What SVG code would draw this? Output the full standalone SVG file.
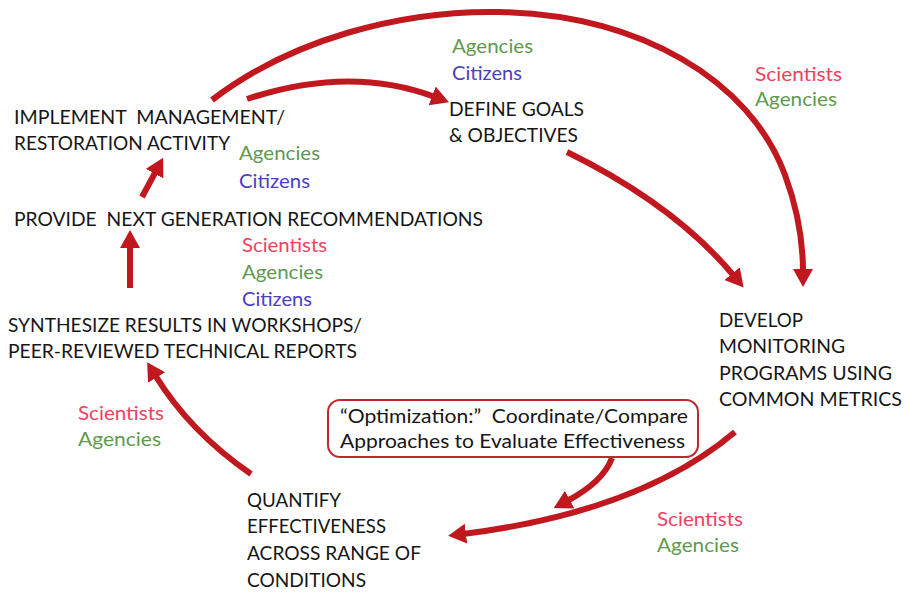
<svg xmlns="http://www.w3.org/2000/svg" width="906" height="592" viewBox="0 0 906 592">
<defs>
<style>
text{font-family:Lato,"Open Sans","Liberation Sans",sans-serif;font-size:18.5px;white-space:pre}
.k{fill:#161616}
.ag{fill:#5e9a4e}
.ci{fill:#4b40c0}
.sc{fill:#f2415e}
.c{fill:none;stroke:#c0181e;stroke-width:6;stroke-linecap:butt;marker-end:url(#ah)}
</style>
<marker id="ah" markerUnits="userSpaceOnUse" markerWidth="20" markerHeight="22" refX="3" refY="10" orient="auto">
<path d="M0,0 L18,10 L0,20 z" fill="#c0181e"/>
</marker>
</defs>
<rect width="906" height="592" fill="#ffffff"/>

<g id="connectors">
<path class="c" d="M212,100 C290,40 400,10 500,12 C640,15 750,80 785,175 C798,210 803,245 803,272"/>
<path class="c" d="M247,99 Q350,65 435,97"/>
<path class="c" d="M567,152 Q675,205 734,276"/>
<path class="c" d="M735,432 Q640,512 463,534"/>
<path class="c" d="M612,458 Q603,482 567,501"/>
<path class="c" d="M251,474 Q190,432 155,375"/>
<path class="c" d="M130,288 L130,245"/>
<path class="c" d="M142,197 L156,171"/>
</g>

<g id="implement">
<text class="k" x="14" y="124" textLength="271" lengthAdjust="spacingAndGlyphs">IMPLEMENT  MANAGEMENT/</text>
<text class="k" x="14" y="150" textLength="216" lengthAdjust="spacingAndGlyphs">RESTORATION ACTIVITY</text>
</g>
<g id="implement-actors">
<text class="ag" x="239" y="160" textLength="81" lengthAdjust="spacingAndGlyphs">Agencies</text>
<text class="ci" x="239" y="188" textLength="71" lengthAdjust="spacingAndGlyphs">Citizens</text>
</g>

<g id="define">
<text class="k" x="449" y="116" textLength="135" lengthAdjust="spacingAndGlyphs">DEFINE GOALS</text>
<text class="k" x="449" y="142" textLength="129" lengthAdjust="spacingAndGlyphs">&amp; OBJECTIVES</text>
</g>
<g id="define-actors">
<text class="ag" x="452" y="53" textLength="81" lengthAdjust="spacingAndGlyphs">Agencies</text>
<text class="ci" x="452" y="80" textLength="70" lengthAdjust="spacingAndGlyphs">Citizens</text>
</g>

<g id="arc-actors">
<text class="sc" x="755" y="81" textLength="87" lengthAdjust="spacingAndGlyphs">Scientists</text>
<text class="ag" x="755" y="106" textLength="82" lengthAdjust="spacingAndGlyphs">Agencies</text>
</g>

<g id="provide">
<text class="k" x="14" y="226" textLength="469" lengthAdjust="spacingAndGlyphs">PROVIDE  NEXT GENERATION RECOMMENDATIONS</text>
</g>
<g id="provide-actors">
<text class="sc" x="242" y="252" textLength="85" lengthAdjust="spacingAndGlyphs">Scientists</text>
<text class="ag" x="242" y="279" textLength="81" lengthAdjust="spacingAndGlyphs">Agencies</text>
<text class="ci" x="242" y="306" textLength="70" lengthAdjust="spacingAndGlyphs">Citizens</text>
</g>

<g id="synthesize">
<text class="k" x="8" y="332" textLength="354" lengthAdjust="spacingAndGlyphs">SYNTHESIZE RESULTS IN WORKSHOPS/</text>
<text class="k" x="8" y="358" textLength="349" lengthAdjust="spacingAndGlyphs">PEER-REVIEWED TECHNICAL REPORTS</text>
</g>

<g id="develop">
<text class="k" x="719" y="327" textLength="84" lengthAdjust="spacingAndGlyphs">DEVELOP</text>
<text class="k" x="719" y="353" textLength="126" lengthAdjust="spacingAndGlyphs">MONITORING</text>
<text class="k" x="719" y="380" textLength="173" lengthAdjust="spacingAndGlyphs">PROGRAMS USING</text>
<text class="k" x="719" y="406" textLength="183" lengthAdjust="spacingAndGlyphs">COMMON METRICS</text>
</g>

<g id="optimization">
<rect x="328" y="400" width="370" height="57" rx="12" ry="12" fill="#ffffff" stroke="#c0282d" stroke-width="2"/>
<text class="k" x="340" y="423" textLength="348" lengthAdjust="spacingAndGlyphs">“Optimization:”  Coordinate/Compare</text>
<text class="k" x="340" y="448" textLength="345" lengthAdjust="spacingAndGlyphs">Approaches to Evaluate Effectiveness</text>
</g>

<g id="quantify">
<text class="k" x="247" y="507" textLength="94" lengthAdjust="spacingAndGlyphs">QUANTIFY</text>
<text class="k" x="247" y="533" textLength="139" lengthAdjust="spacingAndGlyphs">EFFECTIVENESS</text>
<text class="k" x="247" y="560" textLength="174" lengthAdjust="spacingAndGlyphs">ACROSS RANGE OF</text>
<text class="k" x="247" y="587" textLength="119" lengthAdjust="spacingAndGlyphs">CONDITIONS</text>
</g>

<g id="quantify-synth-actors">
<text class="sc" x="78" y="420" textLength="86" lengthAdjust="spacingAndGlyphs">Scientists</text>
<text class="ag" x="78" y="446" textLength="83" lengthAdjust="spacingAndGlyphs">Agencies</text>
</g>

<g id="develop-quantify-actors">
<text class="sc" x="657" y="526" textLength="86" lengthAdjust="spacingAndGlyphs">Scientists</text>
<text class="ag" x="657" y="552" textLength="82" lengthAdjust="spacingAndGlyphs">Agencies</text>
</g>
</svg>
